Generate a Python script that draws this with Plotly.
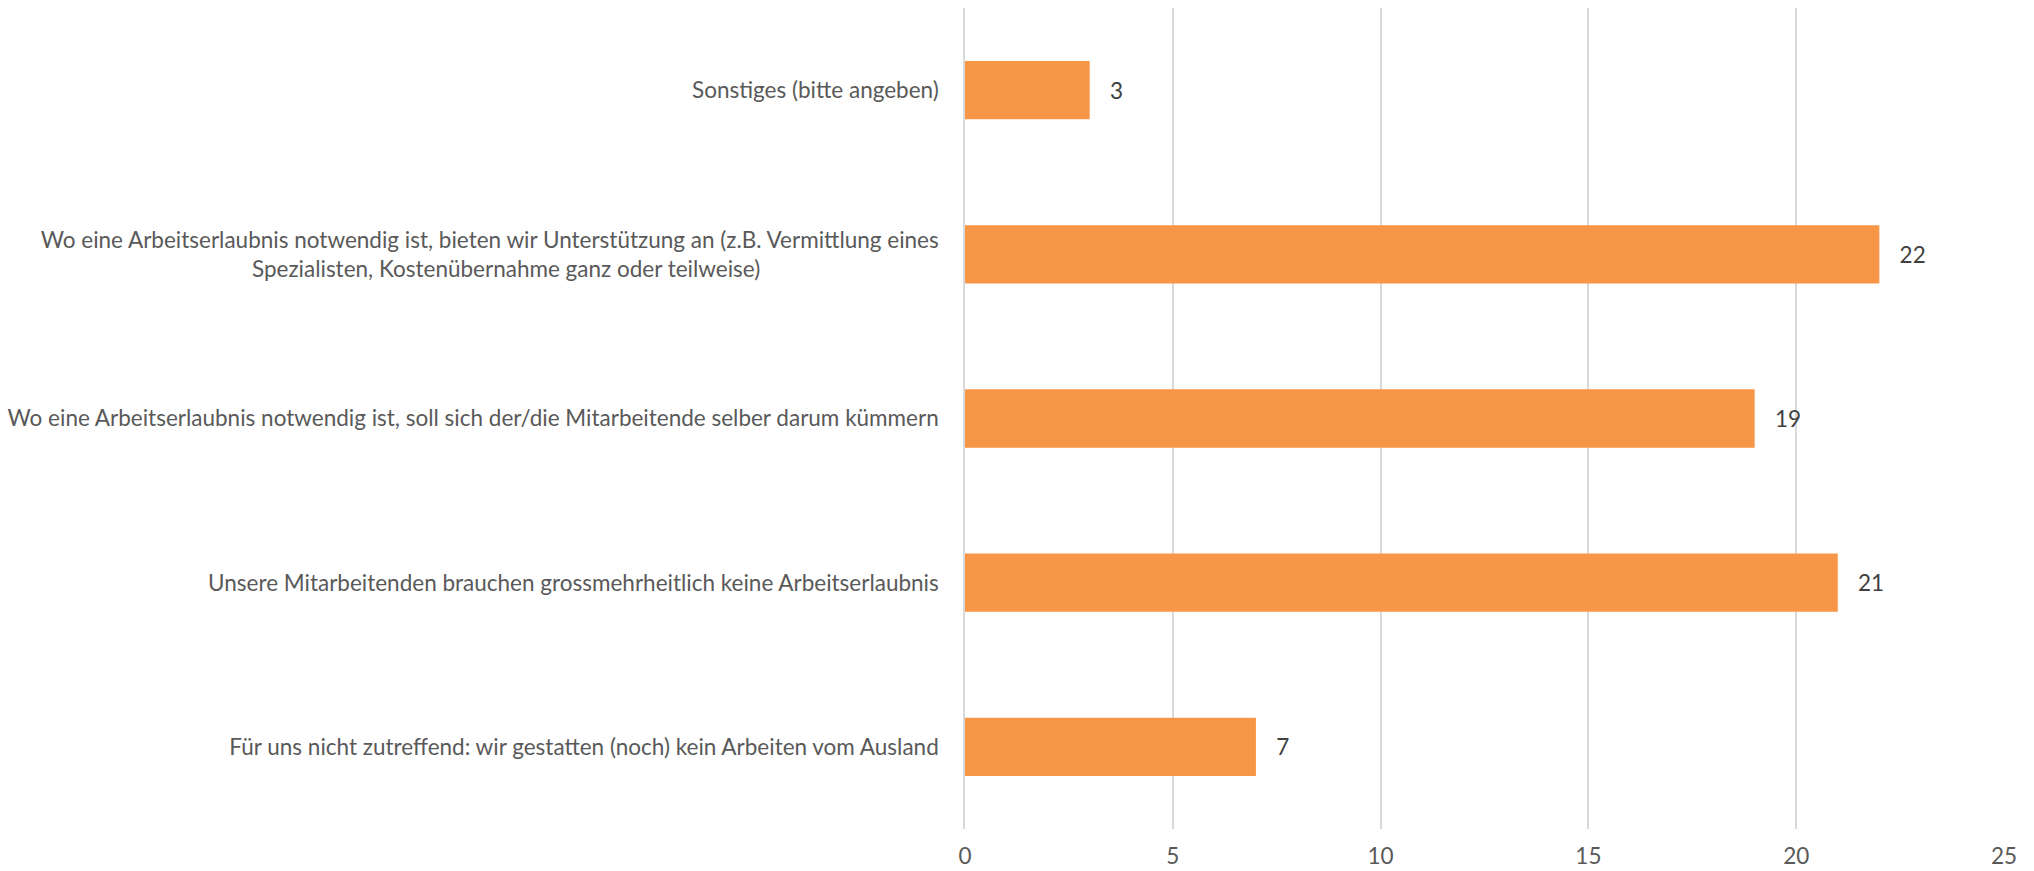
import plotly.graph_objects as go

NBSP = "\u00a0"

categories = [
    "Für uns nicht zutreffend: wir gestatten (noch) kein Arbeiten vom Ausland",
    "Unsere Mitarbeitenden brauchen grossmehrheitlich keine Arbeitserlaubnis",
    "Wo eine Arbeitserlaubnis notwendig ist, soll sich der/die Mitarbeitende selber darum kümmern",
    "Wo eine Arbeitserlaubnis notwendig ist, bieten wir Unterstützung an (z.B. Vermittlung eines<br>"
    "Spezialisten, Kostenübernahme ganz oder teilweise)" + NBSP * 31,
    "Sonstiges (bitte angeben)",
]
values = [7, 21, 19, 22, 3]
x_ticks = [0, 5, 10, 15, 20, 25]

FONT = "Lato, Open Sans, sans-serif"
SIZE = 22.5
TEXT_GREY = "#595959"

fig = go.Figure(
    go.Bar(
        x=values,
        y=categories,
        orientation="h",
        marker=dict(color="#F79646", line=dict(width=0)),
        text=[NBSP * 3 + str(v) for v in values],
        textposition="outside",
        textfont=dict(family=FONT, size=SIZE, color="#404040"),
        cliponaxis=False,
        hoverinfo="skip",
    )
)

fig.update_layout(
    width=2034,
    height=871,
    margin=dict(l=965, r=30, t=8, b=42),
    paper_bgcolor="white",
    plot_bgcolor="white",
    bargap=0.645,
    showlegend=False,
    font=dict(family=FONT, size=SIZE, color=TEXT_GREY),
    xaxis=dict(
        range=[0, 25],
        tickvals=x_ticks,
        showgrid=True,
        gridcolor="#D9D9D9",
        gridwidth=1.5,
        zeroline=False,
        showline=False,
        ticks="",
        ticklabelstandoff=11,
        automargin=False,
        tickfont=dict(family=FONT, size=SIZE, color=TEXT_GREY),
    ),
    yaxis=dict(
        type="category",
        showgrid=False,
        zeroline=False,
        showline=True,
        linecolor="#D9D9D9",
        linewidth=1.5,
        ticks="",
        ticklabelstandoff=20,
        automargin=False,
        tickfont=dict(family=FONT, size=SIZE, color=TEXT_GREY),
    ),
)

fig.write_html("out.html")
